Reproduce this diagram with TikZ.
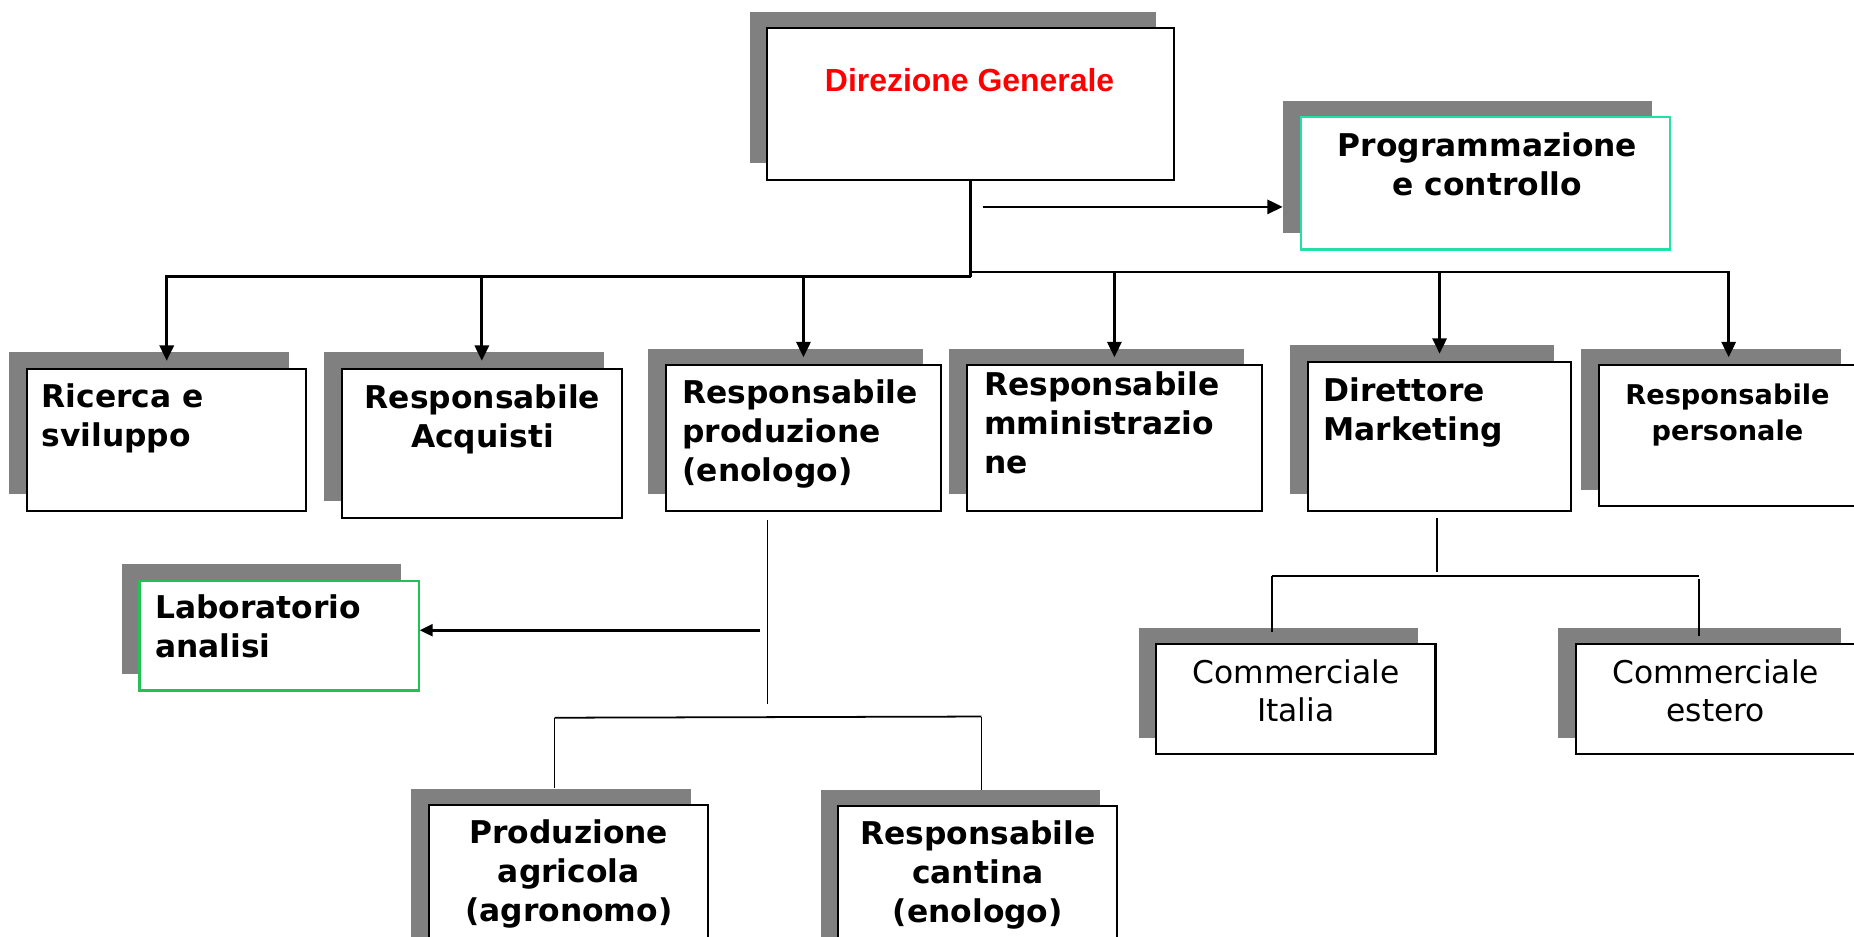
\documentclass[tikz,border=0pt]{standalone}
\usepackage{fontspec}
\setmainfont{DejaVu Sans}
\newfontfamily\arialfont{Liberation Sans}
\usetikzlibrary{arrows.meta,calc}
\definecolor{shade}{HTML}{808080}
\definecolor{progteal}{HTML}{22E0A6}
\definecolor{labgreen}{HTML}{22C055}
\definecolor{dirred}{HTML}{FF0000}
\tikzset{
  orgbox/.style={draw=black, line width=1.8pt, fill=white, inner sep=0pt},
  shadowbox/.style={fill=shade, draw=none, inner sep=0pt},
  conn/.style={line width=2.3pt},
  leaf/.style={line width=1.5pt},
  arr/.style={conn, -{Triangle[length=13pt,width=12pt]}},
  boldtxt/.style={font=\fontsize{26.5}{33}\selectfont\bfseries, inner sep=0pt, anchor=north west, align=left},
  boldc/.style={font=\fontsize{26.5}{33}\selectfont\bfseries, inner sep=0pt, anchor=north, align=center},
  regc/.style={font=\fontsize{26.5}{32}\selectfont, inner sep=0pt, anchor=north, align=center},
}
% name, x1, y1, x2, y2, extra style
\newcommand\orgnode[6]{%
  \node[shadowbox, minimum width={(#4-#2)*1pt}, minimum height={(#5-#3)*1pt}] (#1S) at ({(#2+#4)/2-15},{(#3+#5)/2-14}) {};
  \node[orgbox, minimum width={(#4-#2)*1pt}, minimum height={(#5-#3)*1pt}, #6] (#1) at ({(#2+#4)/2},{(#3+#5)/2}) {};
}
\begin{document}
\begin{tikzpicture}[x=1pt,y=-1pt]
\useasboundingbox (0,0) rectangle (1568,792);
\fill[white] (0,0) rectangle (1568,792);

% boxes
\orgnode{dir}{649}{24}{993}{152}{}
\orgnode{prog}{1100}{99}{1412}{211}{draw=progteal}
\orgnode{ric}{23}{312}{259}{432}{}
\orgnode{acq}{289}{312}{526}{438}{}
\orgnode{prod}{563}{309}{796}{432}{}
\orgnode{amm}{818}{309}{1067}{432}{}
\orgnode{mkt}{1106}{306}{1329}{432}{}
\orgnode{pers}{1352}{309}{1572}{428}{}
\orgnode{lab}{118}{491}{354}{584}{draw=labgreen}
\orgnode{agri}{363}{681}{599}{812}{}
\orgnode{cant}{709}{682}{945}{812}{}
\orgnode{cit}{978}{545}{1214}{638}{}
\orgnode{cest}{1333}{545}{1572}{638}{}

% texts
\node[font=\arialfont\fontsize{27}{32}\selectfont\bfseries, text=dirred, inner sep=0pt, anchor=north] (dirT) at (820,58) {Direzione Generale};
\node[boldc] (progT) at (1258,112) {Programmazione\\e controllo};
\node[boldtxt] (ricT) at (35,324) {Ricerca e\\sviluppo};
\node[boldc] (acqT) at (408,325) {Responsabile\\Acquisti};
\node[boldtxt] (prodT) at (577,321) {Responsabile\\produzione\\(enologo)};
\node[boldtxt] (ammT) at (832,314) {Responsabile\\mministrazio\\ne};
\node[boldtxt] (mktT) at (1119,319) {Direttore\\Marketing};
\node[font=\fontsize{23}{31}\selectfont\bfseries, inner sep=0pt, anchor=north, align=center] (persT) at (1461,324) {Responsabile\\personale};
\node[boldtxt] (labT) at (131,503) {Laboratorio\\analisi};
\node[boldc] (agriT) at (481,693) {Produzione\\agricola\\(agronomo)};
\node[boldc] (cantT) at (827,694) {Responsabile\\cantina\\(enologo)};
\node[regc] (citT) at (1096,558) {Commerciale\\Italia};
\node[regc] (cestT) at (1451,558) {Commerciale\\estero};

% top connectors
\coordinate (hubL) at (821,234);
\coordinate (hubR) at (821,230);
\coordinate (progA) at (831,175);
\draw[conn] (dir.south -| hubL) -- (hubL);
\draw[arr] (progA) -- (progA -| progS.west);
\foreach \c in {ric,acq,prod}{
  \draw[arr] (hubL) -| ($(\c.north)+(0,-6)$);
}
\foreach \c in {amm,mkt,pers}{
  \draw[arr] (hubR) -| ($(\c.north)+(0,-6)$);
}

% production subtree
\coordinate (prodA) at (649,440);
\coordinate (prodB) at (649,595);
\coordinate (labA) at (643,533);
\coordinate (pl) at (469,607);
\coordinate (pr) at (830,606);
\draw[leaf] (prodA) -- (prodB);
\draw[conn, -{Triangle[length=11pt,width=10pt]}] (labA) -- (labA -| lab.east);
\draw[leaf] (pl) -- (pr);
\draw[leaf] (pl) -- (pl |- agriS.north);
\draw[leaf] (pr) -- (pr |- cantS.north);

% marketing subtree
\coordinate (mA) at (1215,438);
\coordinate (mB) at (1215,484);
\coordinate (ml) at (1076,487);
\coordinate (mr) at (1437,487);
\draw[leaf] (mA) -- (mB);
\draw[leaf] (ml) -- (mr);
\draw[leaf] (ml) -- ($(ml |- citS.north)+(0,4)$);
\draw[leaf] ($(mr)+(0,3)$) -- ($(mr |- cestS.north)+(0,7)$);
\end{tikzpicture}
\end{document}
